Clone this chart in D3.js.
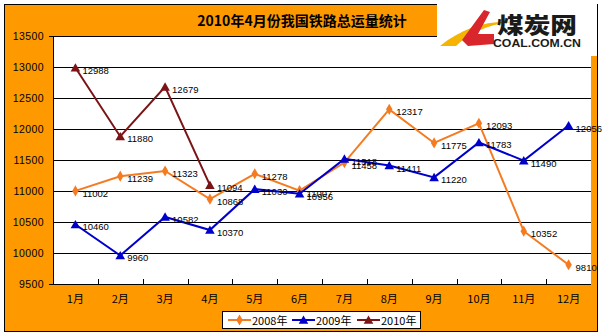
<!DOCTYPE html>
<html><head><meta charset="utf-8">
<script src="https://cdn.jsdelivr.net/npm/d3@7"></script>
<style>body{margin:0;background:#fff}svg{display:block}</style>
</head><body><svg id="c" width="604" height="336"></svg>
<script>
const months = ["1月","2月","3月","4月","5月","6月","7月","8月","9月","10月","11月","12月"];
const s2008 = [11002,11239,11323,10868,11278,11007,11458,12317,11775,12093,10352,9810];
const s2009 = [10460,9960,10582,10370,11030,10956,11518,11411,11220,11783,11490,12056];
const s2010 = [12988,11880,12679,11094];
const yTicks = [9500,10000,10500,11000,11500,12000,12500,13000,13500];
const seriesNames = ["2008年","2009年","2010年"];
const title = "2010年4月份我国铁路总运量统计";

const svg = d3.select("#c");
const ORANGE_BG = "#FF9900";
const colors = ["#F47B20","#0000CC","#7B1416"];
const font = "'Liberation Sans', Arial, sans-serif";
const cjk = "'Noto Sans CJK SC', sans-serif";

// background frame
svg.append("rect").attr("x",4.5).attr("y",4.5).attr("width",593).attr("height",327)
  .attr("fill",ORANGE_BG).attr("stroke","#000").attr("stroke-width",1);

const L=53, R=591, T=36, B=284;
const x = d3.scaleBand().domain(months).range([L,R]);
const y = d3.scaleLinear().domain([9500,13500]).range([B,T]);

svg.append("rect").attr("x",L).attr("y",T).attr("width",R-L).attr("height",B-T).attr("fill","#fff");

// gridlines
svg.append("g").selectAll("line").data(yTicks).join("line")
  .attr("x1",L).attr("x2",R).attr("y1",d=>Math.round(y(d))+0.5).attr("y2",d=>Math.round(y(d))+0.5)
  .attr("stroke","#000").attr("stroke-width",1);
svg.append("line").attr("x1",L+0.5).attr("x2",L+0.5).attr("y1",T).attr("y2",B+1).attr("stroke","#000");
svg.append("line").attr("x1",L-4).attr("x2",L).attr("y1",T+0.5).attr("y2",T+0.5).attr("stroke","#000");
svg.append("line").attr("x1",L-4).attr("x2",L).attr("y1",B+0.5).attr("y2",B+0.5).attr("stroke","#000");

// y labels
svg.append("g").selectAll("text").data(yTicks).join("text")
  .attr("x",44).attr("y",d=>y(d)+4).attr("text-anchor","end")
  .attr("font-family",font).attr("font-size",10.5).attr("letter-spacing",0.4).attr("fill","#000")
  .text(d=>d);

// x ticks (inside, between bands)
const bw = x.bandwidth();
svg.append("g").selectAll("line").data(months.slice(1)).join("line")
  .attr("x1",d=>Math.round(x(d))+0.5).attr("x2",d=>Math.round(x(d))+0.5)
  .attr("y1",B-5).attr("y2",B).attr("stroke","#000");
svg.append("g").selectAll("text").data(months).join("text")
  .attr("x",d=>x(d)+bw/2).attr("y",303).attr("text-anchor","middle")
  .attr("font-family",cjk).attr("font-size",11).attr("fill","#000")
  .text(d=>d);

const cx = i => x(months[i]) + bw/2;
const line = d3.line().x((d,i)=>cx(i)).y(d=>y(d));

const sets = [s2008, s2009, s2010];
const diamond = d3.symbol().type(d3.symbolDiamond).size(36);
const tri = d3.symbol().type(d3.symbolTriangle).size(40);

sets.forEach((data,k)=>{
  const g = svg.append("g");
  g.append("path").datum(data).attr("d",line).attr("fill","none")
    .attr("stroke",colors[k]).attr("stroke-width",2).attr("stroke-linejoin","miter");
  g.selectAll("path.m").data(data).join("path").attr("class","m")
    .attr("transform",(d,i)=>`translate(${cx(i)},${y(d)+(k===0?0:1)})`)
    .attr("d",k===0?diamond():tri()).attr("fill",colors[k]);
});
sets.forEach((data,k)=>{
  svg.append("g").selectAll("text").data(data).join("text")
    .attr("x",(d,i)=>cx(i)+7).attr("y",d=>y(d)+6)
    .attr("font-family",font).attr("font-size",9.5).attr("fill","#000")
    .text(d=>d);
});

// title
svg.append("text").attr("x",302).attr("y",26).attr("text-anchor","middle")
  .attr("font-family","'Noto Sans CJK SC', serif").attr("font-weight","bold").attr("font-size",14)
  .attr("fill","#000").text(title);

// logo
const lg = svg.append("g");
lg.append("rect").attr("x",437).attr("y",0).attr("width",160).attr("height",56).attr("fill","#fff");
lg.append("path").attr("d","M440,46 C462,28 488,20 512,22 C490,24 470,32 456,46 Z").attr("fill","#F5B400");
lg.append("path").attr("d","M462,40 L484,10 L490,12 L478,34 L494,34 L494,44 L468,46 Z").attr("fill","#D8262C");
lg.append("text").attr("x",497).attr("y",33).attr("textLength",80).attr("lengthAdjust","spacingAndGlyphs")
  .attr("font-family",cjk).attr("font-weight","900").attr("font-size",22).attr("fill","#1a1a1a").text("煤炭网");
lg.append("text").attr("x",493).attr("y",46.5).attr("textLength",88).attr("lengthAdjust","spacingAndGlyphs")
  .attr("font-family",font).attr("font-weight","bold").attr("font-size",10).attr("fill","#1a1a1a").text("COAL.COM.CN");

// legend
const leg = svg.append("g");
leg.append("rect").attr("x",222.5).attr("y",311.5).attr("width",198).attr("height",17)
  .attr("fill","#fff").attr("stroke","#000");
const lx = [228,292,357];
seriesNames.forEach((n,k)=>{
  leg.append("line").attr("x1",lx[k]).attr("x2",lx[k]+23).attr("y1",320).attr("y2",320)
    .attr("stroke",colors[k]).attr("stroke-width",2);
  leg.append("path").attr("transform",`translate(${lx[k]+11.5},${320+(k===0?0:1)})`)
    .attr("d",k===0?diamond():tri()).attr("fill",colors[k]);
  leg.append("text").attr("x",lx[k]+24).attr("y",324.5)
    .attr("font-family",cjk).attr("font-size",11).attr("fill","#000").text(n);
});
</script></body></html>
